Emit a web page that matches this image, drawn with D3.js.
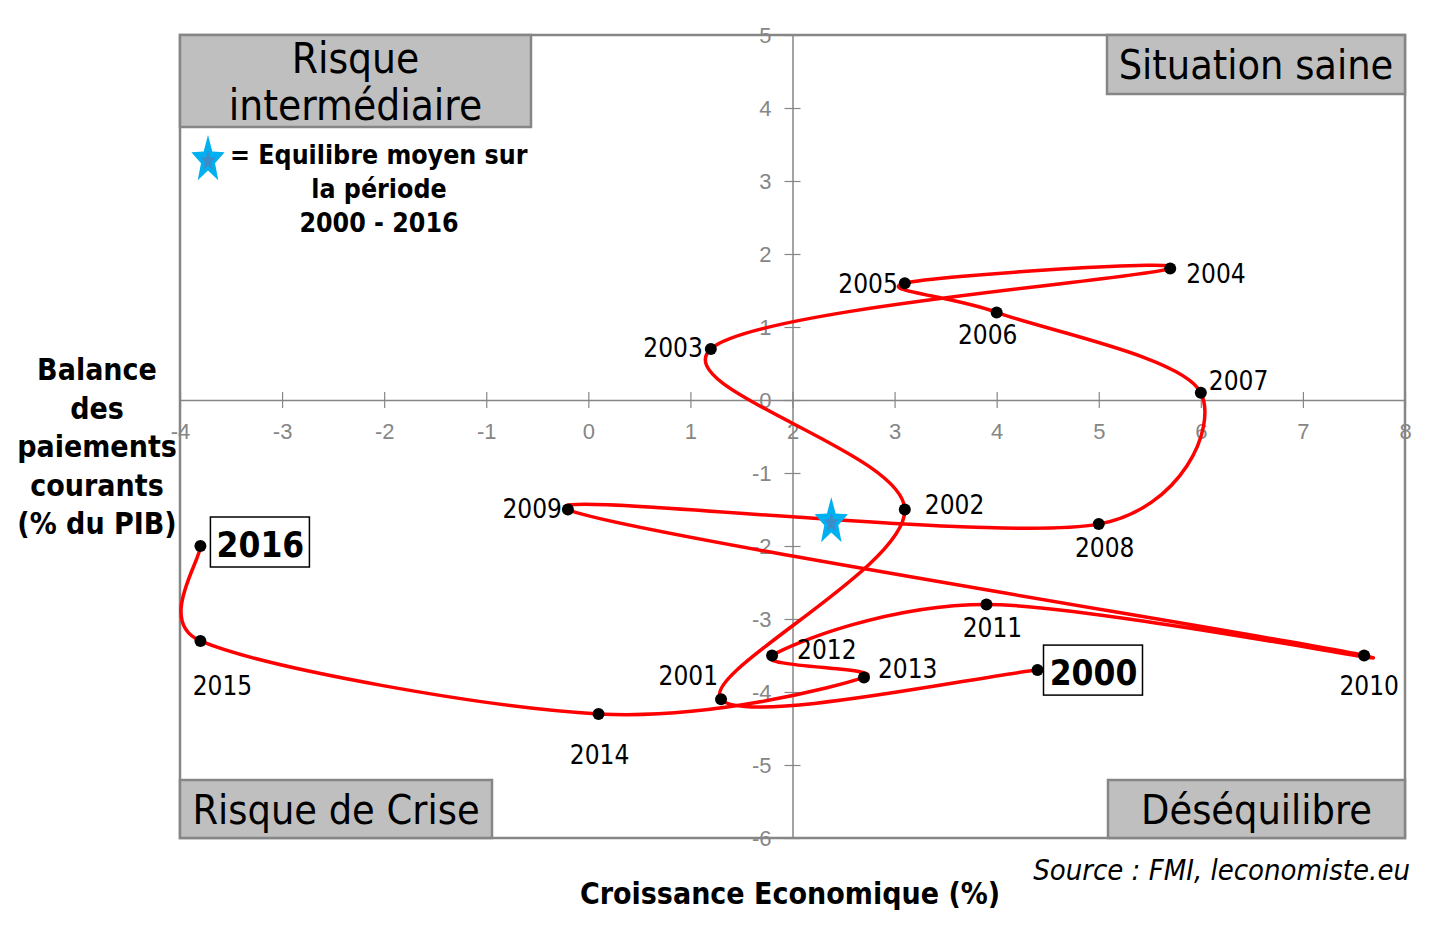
<!DOCTYPE html>
<html>
<head>
<meta charset="utf-8">
<script src="https://cdn.jsdelivr.net/npm/d3@7"></script>
<style>
  body { margin: 0; background: #fff; }
  svg { display: block; font-family: "DejaVu Sans Condensed", "Open Sans", sans-serif; }
</style>
</head>
<body>
<div id="chart"></div>
<script>
//Width and height
var w = 1441;
var h = 928;

// data
var years = [2000, 2001, 2002, 2003, 2004, 2005, 2006, 2007, 2008, 2009, 2010, 2011, 2012, 2013, 2014, 2015, 2016];
var growth = [4.4, 1.3, 3.1, 1.2, 5.7, 3.1, 4.0, 6.0, 5.0, -0.2, 7.6, 3.9, 1.8, 2.7, 0.1, -3.8, -3.8];
var balance = [-3.7, -4.1, -1.5, 0.7, 1.8, 1.6, 1.2, 0.1, -1.7, -1.5, -3.5, -2.8, -3.5, -3.8, -4.3, -3.3, -2.0];
var meanPoint = [2.38, -1.67];
var xTicks = [-4, -3, -2, -1, 0, 1, 2, 3, 4, 5, 6, 7, 8];
var yTicks = [-6, -5, -4, -3, -2, -1, 0, 1, 2, 3, 4, 5];
var boxedYears = [2000, 2016];

// label placement (pixels from the point, baseline)
var labelOffsets = {
	2000: [6, 0], 2001: [-3, -14], 2002: [20, 4], 2003: [-8, 8], 2004: [16, 14],
	2005: [-7, 10], 2006: [-9, 32], 2007: [8, -3], 2008: [6, 33], 2009: [-6, 8],
	2010: [5, 39], 2011: [6, 33], 2012: [25, 3], 2013: [14, 1], 2014: [1, 50],
	2015: [22, 54], 2016: [10, -4]
};
var labelAnchor = {
	2001: "end", 2003: "end", 2005: "end", 2009: "end",
	2006: "middle", 2008: "middle", 2010: "middle", 2011: "middle", 2014: "middle", 2015: "middle"
};

var data = years.map(function (d, i) {
	return { year: d, x: growth[i], y: balance[i] };
});

var x = d3.scaleLinear().domain([-4, 8]).range([180, 1405]);
var y = d3.scaleLinear().domain([-6, 5]).range([838, 35]);

var svg = d3.select("#chart")
	.append("svg")
	.attr("width", w)
	.attr("height", h);

var grey = "#868686";
var fmt = function (d) { return String(d); };

//Axes crossing at x = 2, y = 0
svg.append("g")
	.attr("transform", "translate(0," + y(0) + ")")
	.call(d3.axisBottom(x).tickValues(xTicks).tickSize(0).tickFormat(fmt))
	.call(function (g) {
		g.select(".domain").attr("stroke", grey).attr("stroke-width", 1.5);
		g.selectAll(".tick line").attr("y1", -8).attr("y2", 8).attr("stroke", grey).attr("stroke-width", 1.2);
		g.selectAll(".tick text").attr("y", 31).attr("dy", "0.35em")
			.attr("fill", grey).attr("font-size", 22).attr("font-family", null);
	});

svg.append("g")
	.attr("transform", "translate(" + x(2) + ",0)")
	.call(d3.axisLeft(y).tickValues(yTicks).tickSize(0).tickFormat(fmt))
	.call(function (g) {
		g.select(".domain").attr("stroke", grey).attr("stroke-width", 1.5);
		g.selectAll(".tick line").attr("x1", -8).attr("x2", 8).attr("stroke", grey).attr("stroke-width", 1.2);
		g.selectAll(".tick text").attr("x", -21).attr("dy", "0.35em")
			.attr("fill", grey).attr("font-size", 22).attr("font-family", null);
	});

//Plot border
svg.append("rect")
	.attr("x", x(-4))
	.attr("y", y(5))
	.attr("width", x(8) - x(-4))
	.attr("height", y(-6) - y(5))
	.attr("fill", "none")
	.attr("stroke", grey)
	.attr("stroke-width", 2.5);

//Quadrant boxes
var quadrants = [
	{ lines: ["Risque", "intermédiaire"], x0: 180, y0: 35, bw: 351, bh: 92, fs: 42 },
	{ lines: ["Situation saine"], x0: 1107, y0: 35, bw: 298, bh: 59, fs: 41 },
	{ lines: ["Risque de Crise"], x0: 180, y0: 780, bw: 312, bh: 58, fs: 41 },
	{ lines: ["Déséquilibre"], x0: 1108, y0: 780, bw: 297, bh: 58, fs: 41 }
];
var qg = svg.selectAll("g.quad")
	.data(quadrants)
	.enter()
	.append("g")
	.attr("class", "quad");
qg.append("rect")
	.attr("x", function (d) { return d.x0; })
	.attr("y", function (d) { return d.y0; })
	.attr("width", function (d) { return d.bw; })
	.attr("height", function (d) { return d.bh; })
	.attr("fill", "#bfbfbf")
	.attr("stroke", grey)
	.attr("stroke-width", 2.5);
qg.each(function (d) {
	var g = d3.select(this);
	d.lines.forEach(function (t, i) {
		var n = d.lines.length;
		g.append("text")
			.attr("x", d.x0 + d.bw / 2)
			.attr("y", d.y0 + d.bh / 2 + (i - (n - 1) / 2) * 47)
			.attr("dy", "0.36em")
			.attr("text-anchor", "middle")
			.attr("font-size", d.fs)
			.attr("fill", "#000")
			.text(t);
	});
});

//Star path (stretched vertically like the Excel marker)
function star(cx, cy, rx, ry) {
	var pts = [];
	for (var i = 0; i < 10; i++) {
		var k = i % 2 == 0 ? 1 : 0.42;
		var a = -Math.PI / 2 + i * Math.PI / 5;
		pts.push([cx + k * rx * Math.cos(a), cy + k * ry * Math.sin(a)]);
	}
	return "M" + pts.join("L") + "Z";
}

//Excel-like smoothing: Catmull-Rom arms (1/6) capped at half the segment
function curveExcel(context) {
	var pts;
	function dist(a, b) { return Math.hypot(a[0] - b[0], a[1] - b[1]); }
	return {
		areaStart: function () {},
		areaEnd: function () {},
		lineStart: function () { pts = []; },
		point: function (px, py) { pts.push([+px, +py]); },
		lineEnd: function () {
			var n = pts.length;
			if (!n) return;
			context.moveTo(pts[0][0], pts[0][1]);
			for (var i = 0; i < n - 1; i++) {
				var p0 = pts[Math.max(i - 1, 0)], p1 = pts[i], p2 = pts[i + 1], p3 = pts[Math.min(i + 2, n - 1)];
				var d12 = dist(p1, p2), d02 = dist(p0, p2), d13 = dist(p1, p3);
				var f1 = 1 / 6, f2 = 1 / 6;
				if (d02 > 0 && d02 / 6 >= d12 / 2) f1 = d12 / d02 / 2;
				if (d13 > 0 && d13 / 6 >= d12 / 2) f2 = d12 / d13 / 2;
				context.bezierCurveTo(
					p1[0] + (p2[0] - p0[0]) * f1, p1[1] + (p2[1] - p0[1]) * f1,
					p2[0] - (p3[0] - p1[0]) * f2, p2[1] - (p3[1] - p1[1]) * f2,
					p2[0], p2[1]);
			}
		}
	};
}

//Line
var line = d3.line()
	.x(function (d) { return x(d.x); })
	.y(function (d) { return y(d.y); })
	.curve(curveExcel);

svg.append("path")
	.datum(data)
	.attr("fill", "none")
	.attr("stroke", "#ff0000")
	.attr("stroke-width", 3.5)
	.attr("d", line);

//Mean star
svg.append("path")
	.attr("d", star(x(meanPoint[0]), y(meanPoint[1]), 17.5, 25))
	.attr("fill", "#00b0f0");
svg.append("path")
	.attr("d", star(x(meanPoint[0]), y(meanPoint[1]) + 1, 8, 11))
	.attr("fill", "#4f81bd")
	.attr("opacity", 0.75);

//Points
svg.selectAll("circle.pt")
	.data(data)
	.enter()
	.append("circle")
	.attr("class", "pt")
	.attr("cx", function (d) { return x(d.x); })
	.attr("cy", function (d) { return y(d.y); })
	.attr("r", 6)
	.attr("fill", "#000");

//Labels
var plain = data.filter(function (d) { return boxedYears.indexOf(d.year) < 0; });
svg.selectAll("text.lbl")
	.data(plain)
	.enter()
	.append("text")
	.attr("class", "lbl")
	.attr("x", function (d) { return x(d.x) + labelOffsets[d.year][0]; })
	.attr("y", function (d) { return y(d.y) + labelOffsets[d.year][1]; })
	.attr("text-anchor", function (d) { return labelAnchor[d.year] || "start"; })
	.attr("font-size", 26)
	.attr("fill", "#000")
	.text(function (d) { return d.year; });

var boxed = svg.selectAll("g.boxed")
	.data(data.filter(function (d) { return boxedYears.indexOf(d.year) >= 0; }))
	.enter()
	.append("g")
	.attr("class", "boxed")
	.attr("transform", function (d) {
		return "translate(" + (x(d.x) + labelOffsets[d.year][0]) + "," + (y(d.y) + labelOffsets[d.year][1]) + ")";
	});
boxed.append("rect")
	.attr("x", 0)
	.attr("y", -25)
	.attr("width", 99)
	.attr("height", 50)
	.attr("fill", "#fff")
	.attr("stroke", "#000")
	.attr("stroke-width", 1.5);
boxed.append("text")
	.attr("x", 50)
	.attr("y", 2)
	.attr("dy", "0.36em")
	.attr("text-anchor", "middle")
	.attr("font-size", 35)
	.attr("font-weight", "bold")
	.text(function (d) { return d.year; });

//Legend
svg.append("path")
	.attr("d", star(208, 160, 17.5, 25))
	.attr("fill", "#00b0f0");
svg.append("path")
	.attr("d", star(208, 161, 8, 11))
	.attr("fill", "#4f81bd")
	.attr("opacity", 0.75);
var legend = svg.append("g")
	.attr("font-size", 26.5)
	.attr("font-weight", "bold");
legend.append("text").attr("x", 230).attr("y", 164).text("= Equilibre moyen sur");
legend.append("text").attr("x", 379).attr("y", 198).attr("text-anchor", "middle").text("la période");
legend.append("text").attr("x", 379).attr("y", 232).attr("text-anchor", "middle").text("2000 - 2016");

//Axis titles
var yTitle = ["Balance", "des", "paiements", "courants", "(% du PIB)"];
svg.selectAll("text.ytitle")
	.data(yTitle)
	.enter()
	.append("text")
	.attr("class", "ytitle")
	.attr("x", 97)
	.attr("y", function (d, i) { return 380 + i * 38.5; })
	.attr("text-anchor", "middle")
	.attr("font-size", 30)
	.attr("font-weight", "bold")
	.text(function (d) { return d; });

svg.append("text")
	.attr("x", 790)
	.attr("y", 904)
	.attr("text-anchor", "middle")
	.attr("font-size", 30)
	.attr("font-weight", "bold")
	.text("Croissance Economique (%)");

svg.append("text")
	.attr("x", 1410)
	.attr("y", 880)
	.attr("text-anchor", "end")
	.attr("font-size", 29)
	.attr("font-style", "italic")
	.text("Source : FMI, leconomiste.eu");
</script>
</body>
</html>
